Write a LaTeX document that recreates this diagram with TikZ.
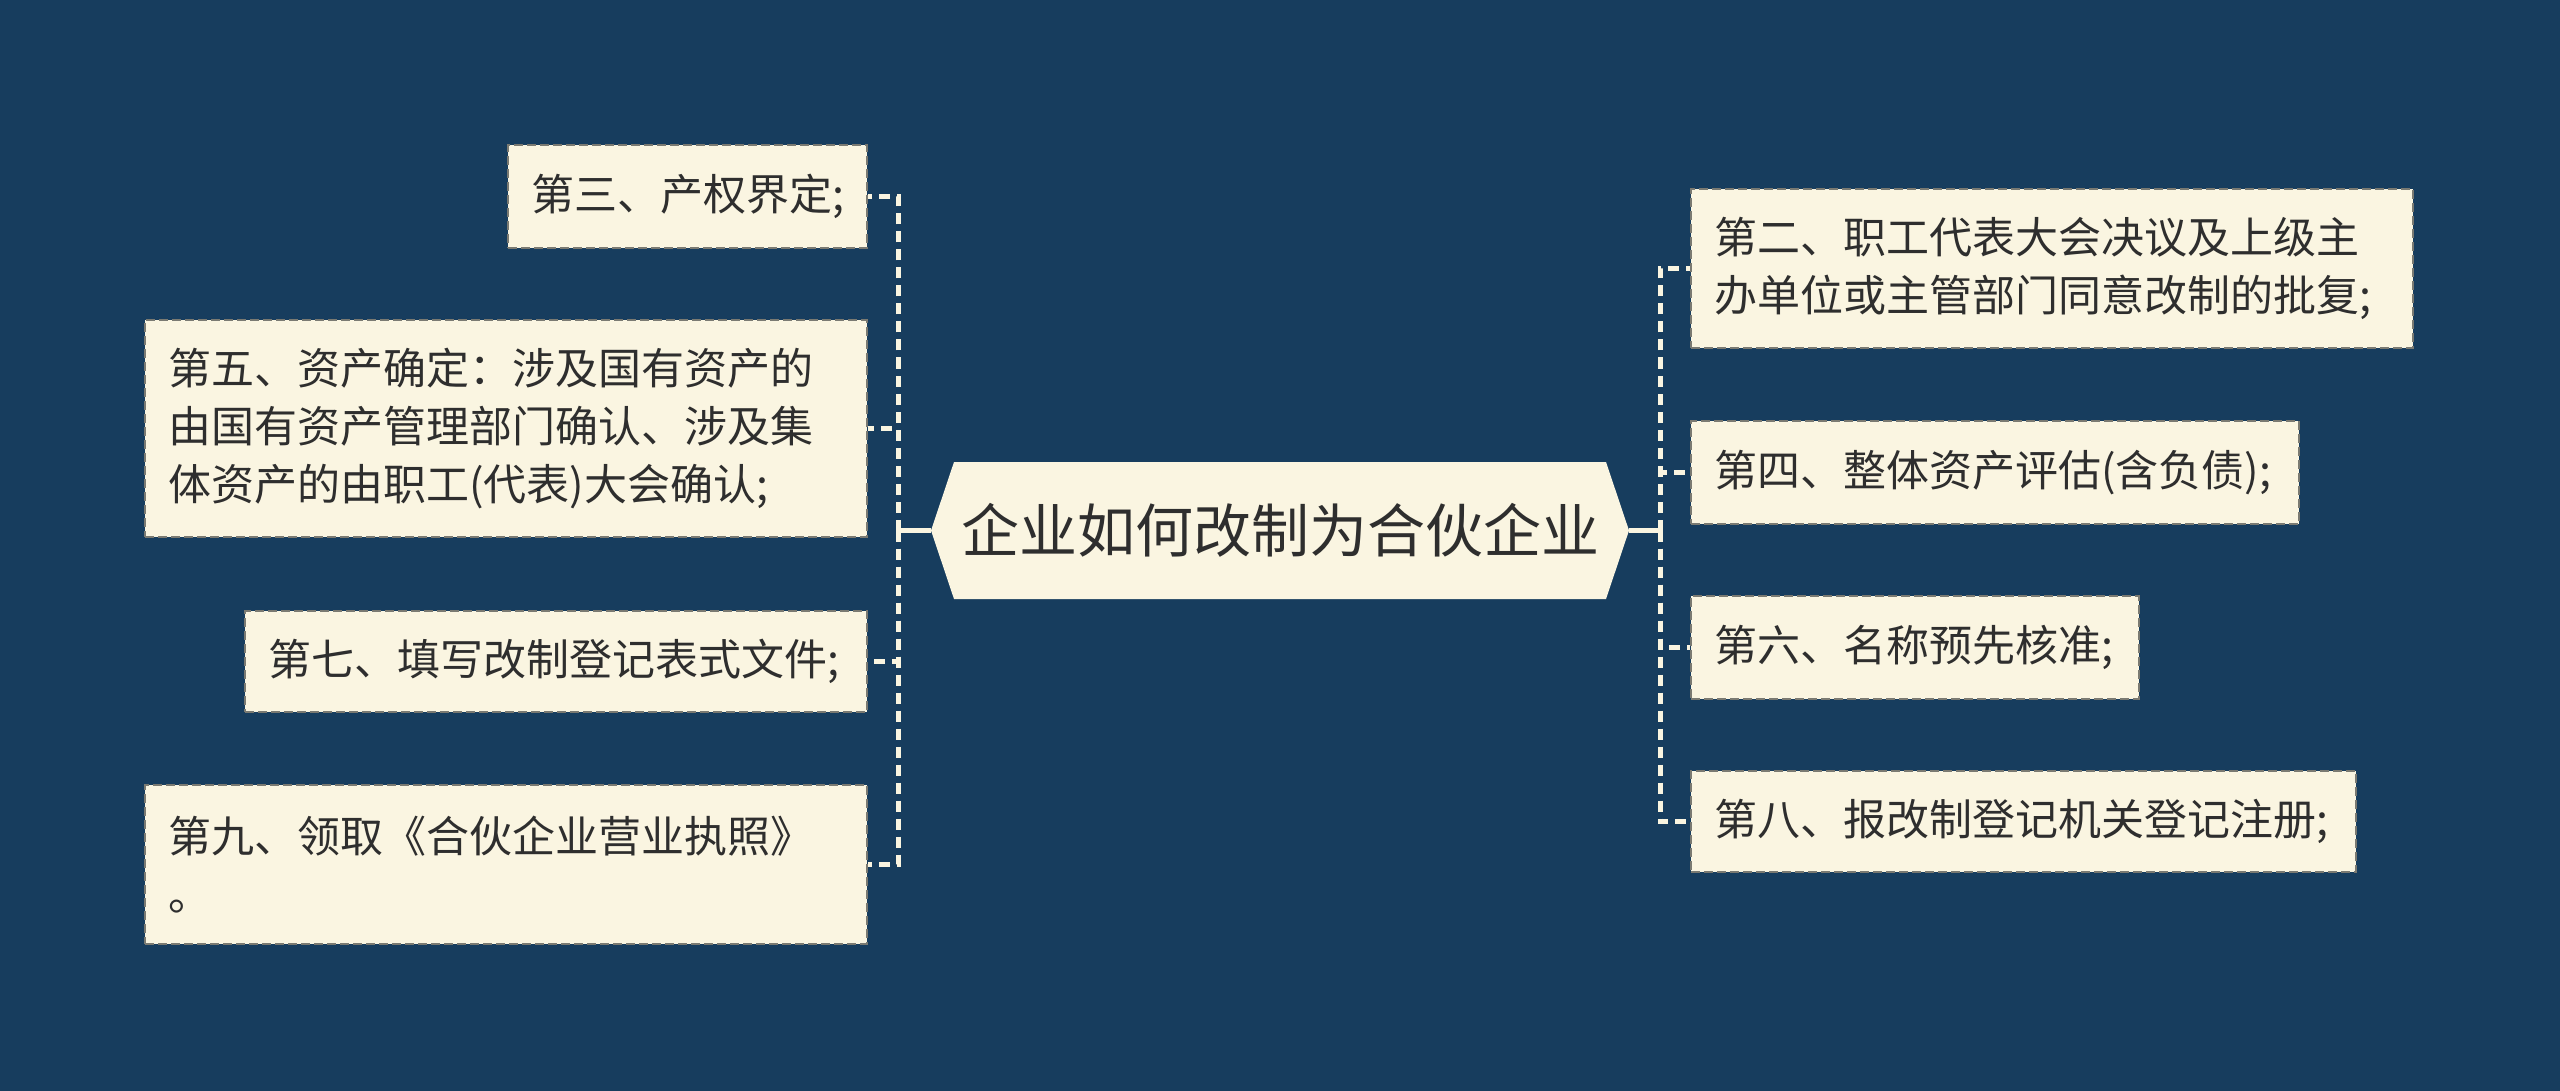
\documentclass[tikz,border=0pt]{standalone}
\usepackage{fontspec}
\newfontfamily\cjk{Noto Sans CJK SC}
\definecolor{bg}{HTML}{173D5E}
\definecolor{boxfill}{HTML}{FAF5E1}
\definecolor{txt}{HTML}{2E2E2E}
\definecolor{edge}{HTML}{7A7A72}
\definecolor{linecol}{HTML}{FAF5E1}
\begin{document}
\begin{tikzpicture}[x=1pt,y=-1pt,
  leaf/.style={draw=edge, dash pattern=on 9pt off 4pt, line width=2pt, fill=boxfill,
    text=txt, inner ysep=0pt, inner xsep=23pt, align=left,
    font=\cjk\fontsize{43}{58}\selectfont},
  conn/.style={draw=linecol, line width=5pt, dash pattern=on 11pt off 7pt},
  stem/.style={draw=linecol, line width=5pt}]
\useasboundingbox (0,0) rectangle (2560,1091);
\fill[bg] (0,0) rectangle (2560,1091);

% central hexagon
\fill[boxfill] (931,530.5) -- (954,462) -- (1606,462) -- (1629,530.5) -- (1606,599) -- (954,599) -- cycle;
\node (c) at (1280,530.5) [minimum width=698pt, minimum height=137pt, inner sep=0pt, text=txt,
  font=\cjk\fontsize{58}{70}\selectfont] {企业如何改制为合伙企业};

% left leaves
\node (l1) at (687.5,196.5) [leaf, minimum width=359pt, text width=313pt, minimum height=103pt] {第三、产权界定;};
\node (l2) at (506,428.5) [leaf, minimum width=722pt, text width=676pt, minimum height=217pt] {第五、资产确定：涉及国有资产的\\由国有资产管理部门确认、涉及集\\体资产的由职工(代表)大会确认;};
\node (l3) at (556,661.5) [leaf, minimum width=622pt, text width=576pt, minimum height=101pt] {第七、填写改制登记表式文件;};
\node (l4) at (506,864.5) [leaf, minimum width=722pt, text width=676pt, minimum height=159pt] {第九、领取《合伙企业营业执照》\\。};

% right leaves
\node (r1) at (2052,268.5) [leaf, minimum width=722pt, text width=676pt, minimum height=159pt] {第二、职工代表大会决议及上级主\\办单位或主管部门同意改制的批复;};
\node (r2) at (1995,472.5) [leaf, minimum width=608pt, text width=562pt, minimum height=103pt] {第四、整体资产评估(含负债);};
\node (r3) at (1915,647.5) [leaf, minimum width=448pt, text width=402pt, minimum height=103pt] {第六、名称预先核准;};
\node (r4) at (2023.5,821.5) [leaf, minimum width=665pt, text width=619pt, minimum height=101pt] {第八、报改制登记机关登记注册;};

% trunks
\coordinate (lt) at (898,530.5);
\coordinate (rt) at (1660,530.5);
\draw[stem] (c.west) -- (lt);
\draw[stem] (c.east) -- (rt);
\foreach \n in {l1,l2,l3,l4} \draw[conn] (lt) |- (\n.east);
\foreach \n in {r1,r2,r3,r4} \draw[conn] (rt) |- (\n.west);
\end{tikzpicture}
\end{document}
